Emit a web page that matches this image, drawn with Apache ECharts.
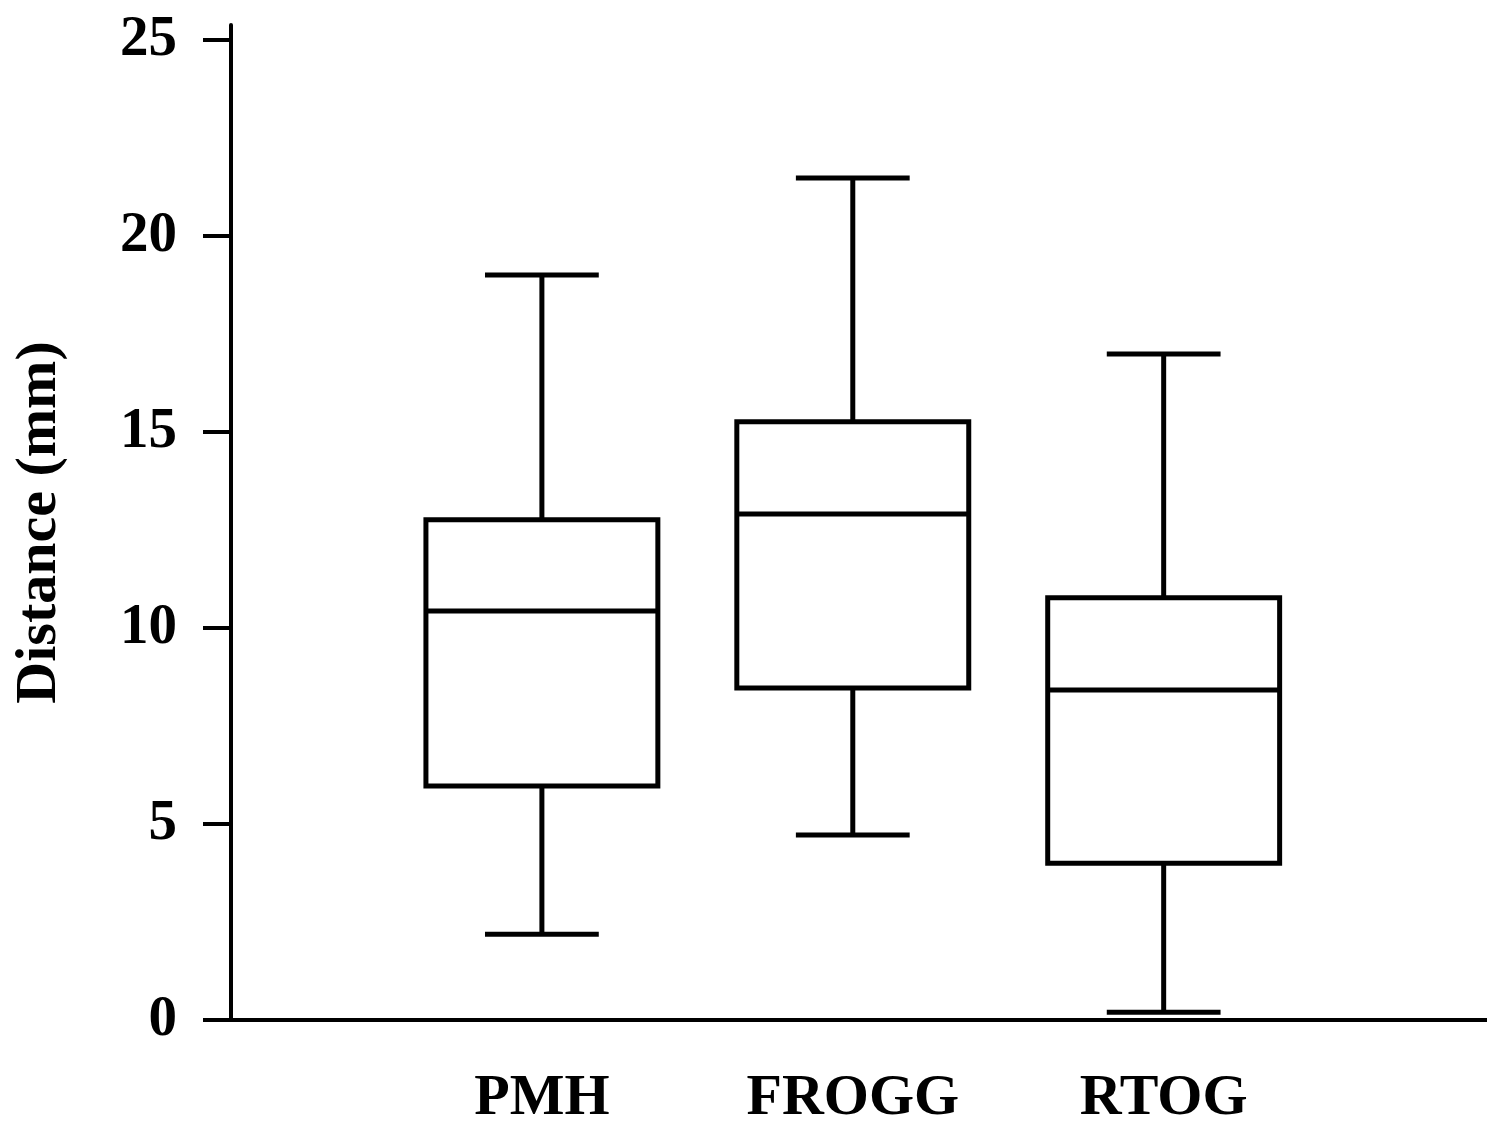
<!DOCTYPE html>
<html>
<head>
<meta charset="utf-8">
<script src="https://cdn.jsdelivr.net/npm/echarts@6/dist/echarts.min.js"></script>
<style>html,body{margin:0;padding:0;background:#fff;}#c{width:1487px;height:1121px;}</style>
</head>
<body>
<div id="c"></div>
<script>
const categories = ['PMH', 'FROGG', 'RTOG'];
const whiskerMin = [2.19, 4.72, 0.20];
const q1 = [5.97, 8.47, 4.00];
const median = [10.43, 12.91, 8.42];
const q3 = [12.76, 15.26, 10.77];
const whiskerMax = [19.0, 21.48, 16.99];
const yTicks = [0, 5, 10, 15, 20, 25];

const FONT = '"Liberation Serif", "Times New Roman", serif';
const data = categories.map((c, i) => [i + 1, whiskerMin[i], q1[i], median[i], q3[i], whiskerMax[i]]);

const chart = echarts.init(document.getElementById('c'));
chart.setOption({
  animation: false,
  backgroundColor: '#fff',
  grid: { left: 231, right: 0, top: 25, bottom: 101, containLabel: false, outerBoundsMode: 'none' },
  xAxis: {
    type: 'value', min: 0, max: 4.04,
    axisLine: { show: true, lineStyle: { color: '#000', width: 4 } },
    axisTick: { show: false },
    splitLine: { show: false },
    axisLabel: {
      customValues: categories.map((c, i) => i + 1),
      formatter: v => categories[Math.round(v) - 1] || '',
      color: '#000', fontFamily: FONT, fontWeight: 'bold', fontSize: 58, margin: 50
    }
  },
  yAxis: {
    type: 'value', min: 0, max: 25.38,
    name: 'Distance (mm)', nameLocation: 'middle', nameGap: 162, nameRotate: 90,
    nameTextStyle: { color: '#000', fontFamily: FONT, fontWeight: 'bold', fontSize: 58 },
    axisLine: { show: true, lineStyle: { color: '#000', width: 4 } },
    axisTick: { show: true, customValues: yTicks, length: 28, lineStyle: { color: '#000', width: 4 } },
    splitLine: { show: false },
    axisLabel: {
      customValues: yTicks,
      color: '#000', fontFamily: FONT, fontWeight: 'bold', fontSize: 57, margin: 54
    }
  },
  series: [{
    type: 'custom',
    data: data,
    encode: { x: 0, y: [1, 2, 3, 4, 5] },
    renderItem: function (params, api) {
      const x = api.value(0);
      const pMin = api.coord([x, api.value(1)]);
      const pQ1 = api.coord([x, api.value(2)]);
      const pMed = api.coord([x, api.value(3)]);
      const pQ3 = api.coord([x, api.value(4)]);
      const pMax = api.coord([x, api.value(5)]);
      const unit = api.coord([x + 1, 0])[0] - api.coord([x, 0])[0];
      const hb = unit * 0.373;
      const hc = unit * 0.183;
      const cx = pMed[0];
      const st = { stroke: '#000', lineWidth: 5, fill: null };
      return {
        type: 'group',
        children: [
          { type: 'line', shape: { x1: cx, y1: pQ3[1], x2: cx, y2: pMax[1] }, style: st },
          { type: 'line', shape: { x1: cx - hc, y1: pMax[1], x2: cx + hc, y2: pMax[1] }, style: st },
          { type: 'line', shape: { x1: cx, y1: pQ1[1], x2: cx, y2: pMin[1] }, style: st },
          { type: 'line', shape: { x1: cx - hc, y1: pMin[1], x2: cx + hc, y2: pMin[1] }, style: st },
          { type: 'rect', shape: { x: cx - hb, y: pQ3[1], width: 2 * hb, height: pQ1[1] - pQ3[1] }, style: { stroke: '#000', lineWidth: 5, fill: '#fff' } },
          { type: 'line', shape: { x1: cx - hb, y1: pMed[1], x2: cx + hb, y2: pMed[1] }, style: st }
        ]
      };
    }
  }]
});
</script>
</body>
</html>
